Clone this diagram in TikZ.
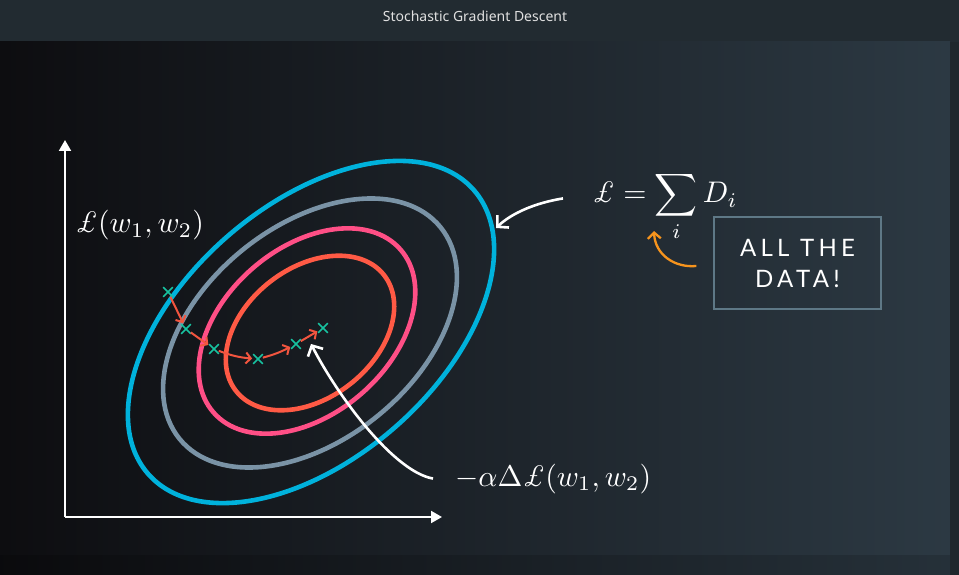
\documentclass[tikz,border=0pt]{standalone}
\usepackage{amsmath}
\usepackage{graphicx}
\usepackage{fontspec}
\newfontfamily\titlefont{Noto Sans}
\newfontfamily\boxfont[LetterSpace=18]{Lato}
\usetikzlibrary{arrows.meta, shapes.misc}
\definecolor{barbg}{HTML}{222B31}
\definecolor{bgleft}{HTML}{0D0D10}
\definecolor{bgright}{HTML}{2C3943}
\definecolor{ringcyan}{HTML}{00B2DC}
\definecolor{ringgray}{HTML}{7A93A6}
\definecolor{ringpink}{HTML}{FF4F86}
\definecolor{ringred}{HTML}{FF5A45}
\definecolor{steptint}{HTML}{F2553F}
\definecolor{marktint}{HTML}{17C2A0}
\definecolor{noteorange}{HTML}{F7941D}
\definecolor{boxline}{HTML}{5E7886}
\newcommand{\Lsym}{\mbox{\itshape\pounds}}
\newcommand{\bigmath}[1]{\scalebox{2.98}{#1}}

\begin{document}
\begin{tikzpicture}[x=1pt,y=-1pt,ring/.style={line width=4.6pt},sgdmark/.style={draw=marktint,cross out,line width=1.6pt,minimum size=8pt,inner sep=0pt},stepline/.style={draw=steptint,line width=2pt,-{Straight Barb[length=5pt,width=11pt]},shorten >=1pt},axis/.style={white,line width=2pt,-{Triangle[length=11pt,width=12pt]}},mathlbl/.style={text=white,inner sep=0pt},pointer/.style={white,line width=2.6pt,-{Straight Barb[length=8pt,width=17pt]}},databox/.style={draw=boxline,line width=1.2pt,minimum width=167pt,minimum height=92pt,align=center,text=white,font=\boxfont\fontsize{24}{31}\selectfont}]
% background
\fill[barbg] (0,0) rectangle (959,42);
\shade[left color=bgleft, right color=bgright] (0,42) rectangle (950,555);
\shade[left color=bgleft!80!black, right color=bgright!85!black] (0,555) rectangle (950,575);
\fill[barbg!90!black] (950,42) rectangle (959,575);
\node[text=white!88!black, font=\titlefont\fontsize{14}{16}\selectfont] (title) at (475,16) {Stochastic Gradient Descent};
\useasboundingbox (0,0) rectangle (959,575);

% axes
\coordinate (origin) at (65,517);
\coordinate (ytop) at (65,140);
\coordinate (xend) at (442,517);
\draw[axis] (origin) -- (ytop);
\draw[axis] (origin) -- (xend);

% contours
\draw[ring, ringcyan, rotate around={41:(311,332)}] (311,332) ellipse [x radius=216pt, y radius=127pt];
\draw[ring, ringgray, rotate around={39:(310,333)}] (310,333) ellipse [x radius=168pt, y radius=107pt];
\draw[ring, ringpink, rotate around={41:(307,331)}] (307,331) ellipse [x radius=124pt, y radius=83pt];
\draw[ring, ringred, rotate around={38:(310,333)}] (310,333) ellipse [x radius=94pt, y radius=65pt];

% sgd steps
\node[sgdmark] (m1) at (168,292) {};
\node[sgdmark] (m2) at (186,329) {};
\node[sgdmark] (m3) at (214,349) {};
\node[sgdmark] (m4) at (258,359) {};
\node[sgdmark] (m5) at (296,344) {};
\node[sgdmark] (m6) at (323,328) {};
\draw[stepline] (m1) -- (m2);
\draw[stepline] (m2) -- (m3);
\draw[stepline] (m3) to[bend right=8] (m4);
\draw[stepline] (m4) to[bend right=6] (m5);
\draw[stepline] (m5) -- (m6);

% labels
\node[mathlbl, anchor=base west] (loss) at (75,233) {\bigmath{$\Lsym(w_1,w_2)$}};
\node[mathlbl, anchor=base west] (grad) at (455,486) {\bigmath{$-\alpha\Delta\Lsym(w_1,w_2)$}};
\node[mathlbl, anchor=base west] (sumf) at (592,203) {\bigmath{$\Lsym = \displaystyle\sum_i D_i$}};
\node[databox] (data) at (797.5,263) {ALL THE\\DATA!};

% pointers
\coordinate (gradtip) at (311,344);
\coordinate (ringtip) at (496,228);
\coordinate (sumtip) at (654,231);
\draw[pointer] ([xshift=-22pt]grad.west) .. controls (395,472) and (340,400) .. (gradtip);
\draw[pointer] ([xshift=-29pt,yshift=8pt]sumf.west) .. controls (535,203) and (512,213) .. (ringtip);
\draw[noteorange, line width=2.3pt, -{Straight Barb[length=6pt,width=13pt]}] ([xshift=-17pt,yshift=-3pt]data.west) .. controls (675,268) and (655,255) .. (sumtip);
\end{tikzpicture}
\end{document}
